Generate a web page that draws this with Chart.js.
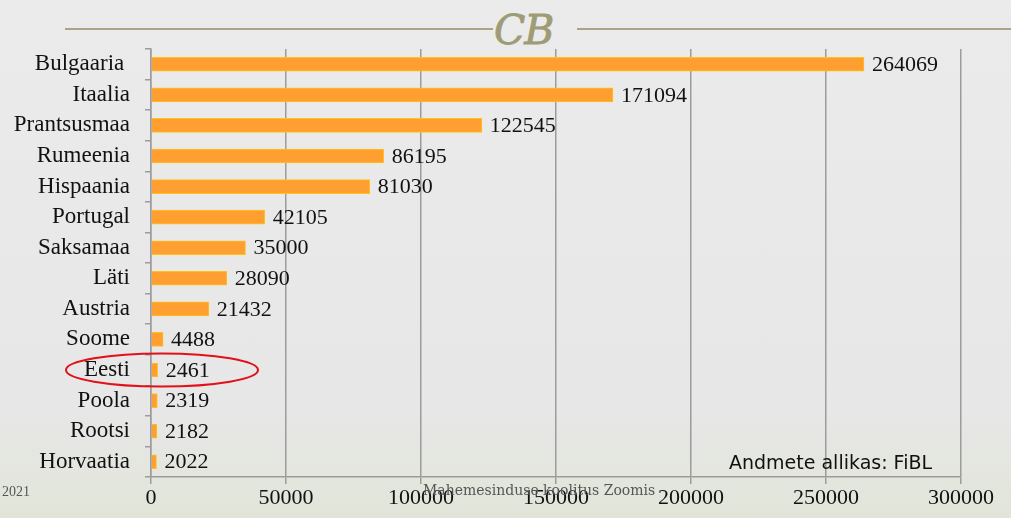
<!DOCTYPE html>
<html>
<head>
<meta charset="utf-8">
<script src="https://cdn.jsdelivr.net/npm/chart.js@4/dist/chart.umd.min.js"></script>
<style>
  html, body { margin: 0; padding: 0; }
  body {
    width: 1011px; height: 518px; overflow: hidden; position: relative;
    background: linear-gradient(to bottom, #ebebeb 0%, #e7e7e7 80%, #e1e5d8 100%);
  }
  #wrap { position: absolute; left: 0; top: 0; width: 1011px; height: 518px; }
  .line { position: absolute; height: 2px; background: #a7a586; top: 28px; }
  .orn { position: absolute; left: 494px; top: 6px; font-family: "DejaVu Serif", serif; font-style: italic;
         font-size: 41px; line-height: normal; color: #9e9c76; letter-spacing: -1px; -webkit-text-stroke: 0.8px #9e9c76; }
  .src { position: absolute; left: 729px; top: 451px; font-family: "DejaVu Sans", sans-serif; font-size: 19px; color: #111; }
  .yr { position: absolute; left: 2px; top: 484px; font-family: "Liberation Serif", serif; font-size: 14px; color: #555; }
  .foot { position: absolute; left: 423px; top: 482px; font-family: "DejaVu Serif", serif; font-size: 14px; color: #555; }
</style>
</head>
<body>
<div class="line" style="left:65px;width:428px;"></div>
<div class="line" style="left:577px;width:434px;"></div>
<div class="orn">CB</div>
<div id="wrap"><canvas id="c"></canvas></div>
<div class="src">Andmete allikas: FiBL</div>
<div class="yr">2021</div>
<div class="foot">Mahemesinduse koolitus Zoomis</div>
<script>
const countries = ["Bulgaaria ", "Itaalia", "Prantsusmaa", "Rumeenia", "Hispaania", "Portugal", "Saksamaa", "Läti", "Austria", "Soome", "Eesti", "Poola", "Rootsi", "Horvaatia"];
const producers = [264069, 171094, 122545, 86195, 81030, 42105, 35000, 28090, 21432, 4488, 2461, 2319, 2182, 2022];
const xTicks = [0, 50000, 100000, 150000, 200000, 250000, 300000];
const highlighted = "Eesti";

const serif = "'Liberation Serif', serif";

const valueLabels = {
  id: 'valueLabels',
  afterDatasetsDraw(chart) {
    const ctx = chart.ctx;
    const meta = chart.getDatasetMeta(0);
    ctx.save();
    ctx.font = "22px " + serif;
    ctx.fillStyle = "#111";
    ctx.textBaseline = "middle";
    ctx.textAlign = "left";
    meta.data.forEach((el, i) => {
      ctx.fillText(String(producers[i]), el.x + 8, el.y + 1);
    });
    ctx.restore();
  }
};

const highlightRing = {
  id: 'highlightRing',
  afterDraw(chart) {
    const ys = chart.scales.y, xs = chart.scales.x;
    const idx = countries.indexOf(highlighted);
    const cy = ys.getPixelForValue(idx);
    const cx = xs.getPixelForValue(0) + 11;
    const ctx = chart.ctx;
    ctx.save();
    ctx.strokeStyle = "#e3101a";
    ctx.lineWidth = 2;
    ctx.beginPath();
    ctx.ellipse(cx, cy, 96, 16.5, 0, 0, Math.PI * 2);
    ctx.stroke();
    ctx.restore();
  }
};

new Chart(document.getElementById('c'), {
  type: 'bar',
  data: {
    labels: countries,
    datasets: [{
      data: producers,
      backgroundColor: '#ff9f31',
      borderColor: '#ffc21a',
      borderWidth: 1,
      barThickness: 14
    }]
  },
  options: {
    indexAxis: 'y',
    responsive: true,
    maintainAspectRatio: false,
    animation: false,
    layout: { padding: { left: 0, right: 50, top: 49, bottom: 0 } },
    plugins: { legend: { display: false }, tooltip: { enabled: false } },
    scales: {
      x: {
        min: 0, max: 300000,
        afterBuildTicks(scale) { scale.ticks = xTicks.map(v => ({ value: v })); },
        afterFit(scale) { scale.height = 41; },
        grid: { color: '#9c9c9c', lineWidth: 1.5, drawTicks: true, tickLength: 7 },
        border: { display: true, color: '#9c9c9c', width: 1.5 },
        ticks: { color: '#111', font: { family: serif, size: 22 }, padding: 1, maxRotation: 0,
                 autoSkip: false, callback: v => String(v) }
      },
      y: {
        afterFit(scale) { scale.width = 151; },
        grid: { offset: true, drawOnChartArea: false, drawTicks: true, tickLength: 6, color: '#9c9c9c', lineWidth: 1.5 },
        border: { display: true, color: '#9c9c9c', width: 1.5 },
        ticks: { color: '#111', font: { family: serif, size: 23 }, padding: 15, autoSkip: false }
      }
    }
  },
  plugins: [valueLabels, highlightRing]
});
</script>
</body>
</html>
